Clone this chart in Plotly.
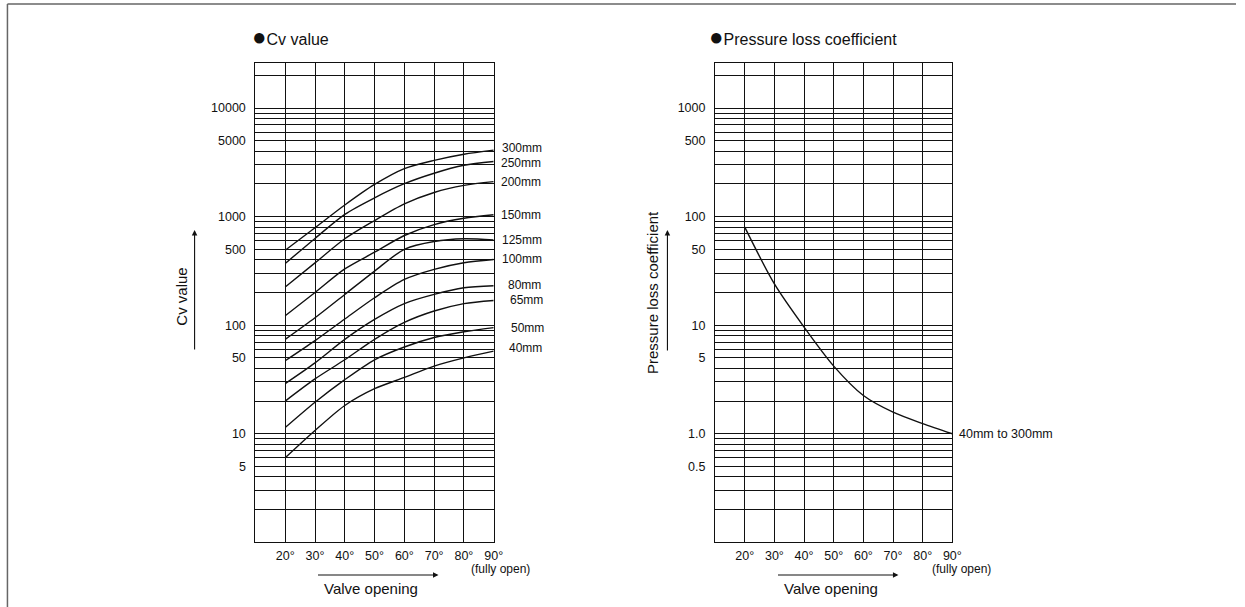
import math
import plotly.graph_objects as go

# ---------------- data ----------------
angles = [20, 30, 40, 50, 60, 70, 80, 90]
angle_labels = ["20°", "30°", "40°", "50°", "60°", "70°", "80°", "90°"]

sizes = ["300mm", "250mm", "200mm", "150mm", "125mm", "100mm", "80mm", "65mm", "50mm", "40mm"]
cv_300 = [490, 790, 1280, 1980, 2770, 3300, 3760, 4100]
cv_250 = [370, 630, 1050, 1490, 2010, 2510, 2970, 3220]
cv_200 = [225, 375, 625, 920, 1310, 1670, 1940, 2100]
cv_150 = [122, 200, 330, 470, 670, 845, 965, 1040]
cv_125 = [74, 117, 192, 315, 500, 590, 625, 610]
cv_100 = [47, 72, 114, 179, 264, 327, 376, 403]
cv_80 = [29, 45, 74, 113, 158, 192, 221, 231]
cv_65 = [20, 32, 48, 74, 106, 135, 158, 169]
cv_50 = [11.4, 19.5, 31.5, 48, 63, 77, 87, 95]
cv_40 = [6.0, 10.7, 18.2, 26, 33, 42, 50, 57.7]
cv_series = [cv_300, cv_250, cv_200, cv_150, cv_125, cv_100, cv_80, cv_65, cv_50, cv_40]

loss_coef = [80, 24, 9.6, 4.2, 2.25, 1.58, 1.24, 1.0]
loss_label = "40mm to 300mm"

cv_grid = [m * 10 ** e for e in range(0, 5) for m in range(1, 10)]
cv_grid = [v for v in cv_grid if 2 <= v <= 20000]
cv_ticklabels = {5: "5", 10: "10", 50: "50", 100: "100", 500: "500", 1000: "1000", 5000: "5000", 10000: "10000"}
loss_grid = [round(m * 10 ** e, 6) for e in range(-1, 4) for m in range(1, 10)]
loss_grid = [v for v in loss_grid if 0.2 <= v <= 2000]
loss_ticklabels = {0.5: "0.5", 1.0: "1.0", 5: "5", 10: "10", 50: "50", 100: "100", 500: "500", 1000: "1000"}

# ---------------- styling helpers ----------------
W, H = 1245, 607
FONT = "Liberation Sans, Arial, Helvetica, sans-serif"
INK = "#111111"


def px(x):
    return x / W


def py(y):
    return 1 - y / H


label_xshift = {"300mm": 6, "250mm": 5, "200mm": 5, "150mm": 5, "125mm": 6, "100mm": 6,
                "80mm": 12, "65mm": 14, "50mm": 15, "40mm": 13}
label_yshift = {"300mm": 2, "250mm": -1, "200mm": 0, "150mm": 0, "125mm": 0, "100mm": 0,
                "80mm": 1, "65mm": 0, "50mm": 0, "40mm": 3}

fig = go.Figure()

for name, vals in zip(sizes, cv_series):
    fig.add_trace(go.Scatter(x=angles, y=vals, mode="lines", name=name,
                             line=dict(color=INK, width=1.4, shape="spline", smoothing=0.8),
                             xaxis="x", yaxis="y", showlegend=False, hoverinfo="skip"))

fig.add_trace(go.Scatter(x=angles, y=loss_coef, mode="lines", name=loss_label,
                         line=dict(color=INK, width=1.4, shape="spline", smoothing=0.8),
                         xaxis="x2", yaxis="y2", showlegend=False, hoverinfo="skip"))

dom_y = [py(542.3), py(62.7)]
xaxis_common = dict(range=[10, 90], tickvals=angles, ticktext=angle_labels, showgrid=True,
                    gridcolor=INK, gridwidth=1, showline=True, linecolor=INK, linewidth=1.2,
                    mirror=True, ticks="", zeroline=False, ticklabelstandoff=2,
                    tickfont=dict(family=FONT, size=12.5, color=INK), fixedrange=True)
yaxis_common = dict(type="log", showgrid=True, gridcolor=INK, gridwidth=1, showline=True,
                    linecolor=INK, linewidth=1.2, mirror=True, ticks="", zeroline=False,
                    ticklabelstandoff=6, tickfont=dict(family=FONT, size=12.5, color=INK),
                    fixedrange=True)

fig.update_layout(
    width=W, height=H,
    margin=dict(l=0, r=0, t=0, b=0),
    paper_bgcolor="white", plot_bgcolor="white",
    xaxis=dict(domain=[px(257.3), px(497.3)], anchor="y", **xaxis_common),
    yaxis=dict(domain=dom_y, anchor="x", range=[0, 4.418],
               tickvals=cv_grid, ticktext=[cv_ticklabels.get(v, "") for v in cv_grid],
               **yaxis_common),
    xaxis2=dict(domain=[px(720.3), px(959.3)], anchor="y2", **xaxis_common),
    yaxis2=dict(domain=dom_y, anchor="x2", range=[-1, 3.418],
                tickvals=loss_grid, ticktext=[loss_ticklabels.get(v, "") for v in loss_grid],
                **yaxis_common),
    showlegend=False,
)

ann = []
# curve labels
for name, vals in zip(sizes, cv_series):
    ann.append(dict(x=angles[-1], y=math.log10(vals[-1]), xref="x", yref="y", text=name,
                    showarrow=False, xanchor="left", yanchor="middle",
                    xshift=label_xshift[name], yshift=label_yshift[name],
                    font=dict(family=FONT, size=12, color=INK)))
ann.append(dict(x=angles[-1], y=math.log10(loss_coef[-1]), xref="x2", yref="y2", text=loss_label,
                showarrow=False, xanchor="left", yanchor="middle", xshift=5,
                font=dict(family=FONT, size=12.5, color=INK)))

# titles
dot = "<span style='font-size:24px'>●</span>"
ann.append(dict(x=px(252), y=py(36.5), xref="paper", yref="paper", text=dot + "Cv value",
                showarrow=False, xanchor="left", yanchor="middle",
                font=dict(family=FONT, size=16, color=INK)))
ann.append(dict(x=px(712), y=py(36.5), xref="paper", yref="paper",
                text=dot + "Pressure loss coefficient",
                showarrow=False, xanchor="left", yanchor="middle",
                font=dict(family=FONT, size=16, color=INK)))

# y-axis titles
ann.append(dict(x=px(183.3), y=py(296.7), xref="paper", yref="paper", text="Cv value",
                textangle=-90, showarrow=False, xanchor="center", yanchor="middle",
                font=dict(family=FONT, size=15, color=INK)))
ann.append(dict(x=px(657.3), y=py(292.5), xref="paper", yref="paper", text="Pressure loss coefficient",
                textangle=-90, showarrow=False, xanchor="center", yanchor="middle",
                font=dict(family=FONT, size=15, color=INK)))

# x-axis titles
for cx in (373.5, 836.7):
    ann.append(dict(x=px(cx), y=py(588.3), xref="paper", yref="paper", text="Valve opening",
                    showarrow=False, xanchor="center", yanchor="middle",
                    font=dict(family=FONT, size=15, color=INK)))
for cx in (504.0, 968.8):
    ann.append(dict(x=px(cx), y=py(569), xref="paper", yref="paper", text="(fully open)",
                    showarrow=False, xanchor="center", yanchor="middle",
                    font=dict(family=FONT, size=12, color=INK)))

# arrows
arrow_style = dict(showarrow=True, arrowhead=2, arrowsize=1, arrowwidth=1.1, arrowcolor=INK,
                   text="", xref="paper", yref="paper", axref="pixel", ayref="pixel")
ann.append(dict(x=px(196), y=py(230), ax=0, ay=121, **arrow_style))
ann.append(dict(x=px(672.3), y=py(230), ax=0, ay=122, **arrow_style))
ann.append(dict(x=px(441.7), y=py(575), ax=-122, ay=0, **arrow_style))
ann.append(dict(x=px(905), y=py(575), ax=-122, ay=0, **arrow_style))

fig.update_layout(annotations=ann)

# outer frame (top and left edges)
fig.add_shape(type="line", xref="paper", yref="paper", x0=px(7.5), x1=1, y0=py(4), y1=py(4),
              line=dict(color="#666666", width=1.5))
fig.add_shape(type="line", xref="paper", yref="paper", x0=px(7.5), x1=px(7.5), y0=py(4), y1=0,
              line=dict(color="#666666", width=1.5))

fig.write_html("out.html", config={"displayModeBar": False},
               post_script="document.body.style.margin='0';document.body.style.overflow='hidden';")
